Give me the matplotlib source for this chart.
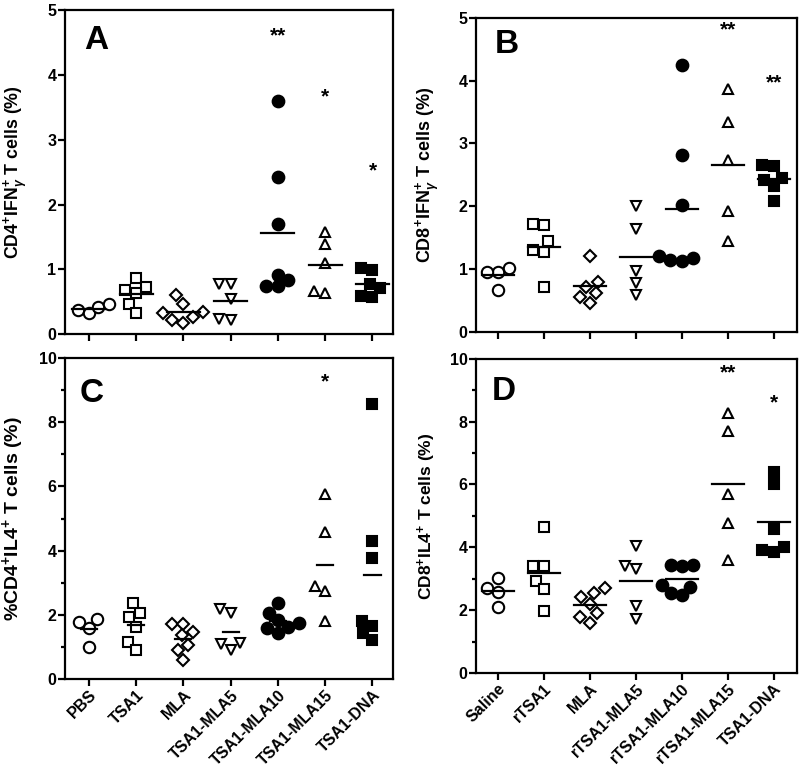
import matplotlib
matplotlib.use('Agg')
import matplotlib.pyplot as plt
import numpy as np
from matplotlib.ticker import MultipleLocator

plt.rcParams['font.family'] = 'Liberation Sans'
plt.rcParams['font.weight'] = 'bold'
plt.rcParams['mathtext.fontset'] = 'custom'
plt.rcParams['mathtext.rm'] = 'Liberation Sans:bold'
plt.rcParams['mathtext.it'] = 'Liberation Sans:bold:italic'
plt.rcParams['mathtext.bf'] = 'Liberation Sans:bold'

# group names
groups_left = ['PBS', 'TSA1', 'MLA', 'TSA1-MLA5', 'TSA1-MLA10', 'TSA1-MLA15', 'TSA1-DNA']
groups_right = ['Saline', 'rTSA1', 'MLA', 'rTSA1-MLA5', 'rTSA1-MLA10', 'rTSA1-MLA15', 'TSA1-DNA']

# panel A: CD4+IFNg+
a_vals = [
    [0.37, 0.32, 0.42, 0.47],
    [0.86, 0.68, 0.73, 0.63, 0.47, 0.33],
    [0.60, 0.47, 0.34, 0.32, 0.27, 0.22, 0.17],
    [0.78, 0.78, 0.54, 0.22, 0.23],
    [3.59, 2.43, 1.70, 0.92, 0.83, 0.75, 0.74],
    [1.58, 1.39, 1.10, 0.67, 0.63],
    [1.02, 0.99, 0.78, 0.71, 0.59, 0.58],
]
a_stars = [(4, 4.6, '**'), (5, 3.66, '*'), (6, 2.52, '*')]

# panel B: CD8+IFNg+
b_vals = [
    [0.96, 0.96, 1.01, 0.67],
    [1.70, 1.72, 1.44, 1.30, 1.27, 0.72],
    [1.20, 0.80, 0.72, 0.62, 0.56, 0.46],
    [2.00, 1.63, 0.97, 0.77, 0.58],
    [4.24, 2.82, 2.02, 1.20, 1.18, 1.15, 1.13],
    [3.86, 3.34, 2.74, 1.92, 1.44],
    [2.64, 2.65, 2.45, 2.41, 2.32, 2.09],
]
b_stars = [(5, 4.81, '**'), (6, 3.97, '**')]

# panel C: CD4+IL4+
c_vals = [
    [1.79, 1.86, 1.60, 0.99],
    [2.07, 1.92, 2.36, 1.63, 1.16, 0.92],
    [1.73, 1.73, 1.47, 1.37, 1.06, 0.90, 0.59],
    [2.17, 2.05, 1.11, 1.09, 0.90],
    [2.38, 2.05, 1.84, 1.75, 1.63, 1.58, 1.44],
    [5.76, 4.57, 2.90, 2.74, 1.80],
    [8.56, 4.29, 3.78, 1.80, 1.66, 1.44, 1.23],
]
c_stars = [(5, 9.25, '*')]

# panel D: CD8+IL4+
d_vals = [
    [3.02, 2.57, 2.70, 2.09],
    [4.65, 3.40, 3.40, 2.92, 2.66, 1.97],
    [2.54, 2.70, 2.41, 2.20, 1.90, 1.79, 1.60],
    [4.04, 3.40, 3.32, 2.13, 1.73],
    [3.44, 3.39, 3.44, 2.75, 2.80, 2.54, 2.49],
    [8.28, 7.70, 5.69, 4.78, 3.61],
    [6.40, 6.02, 4.57, 4.01, 3.85, 3.90],
]
d_stars = [(5, 9.56, '**'), (6, 8.6, '*')]

# marker per group: (marker, size, filled)
styles = [('o', 8.2, False), ('s', 7.2, False), ('D', 6.4, False), ('v', 7.8, False),
          ('o', 8.4, True), ('^', 7.8, False), ('s', 6.6, True)]


def swarm(ax, vals, xc, d=11.5):
    """simple beeswarm: x offsets in pixels so markers do not overlap"""
    p0 = ax.transData.transform((0, 0))
    p1 = ax.transData.transform((1, 1))
    sx, sy = p1 - p0
    ys = np.asarray(vals) * sy
    placed = []
    xs = np.zeros(len(vals))
    for i in np.argsort(ys):
        cands = [0.0]
        for px, py in placed:
            dy = ys[i] - py
            if abs(dy) < d:
                dx = np.sqrt(d * d - dy * dy)
                cands += [px - dx, px + dx]
        cands.sort(key=abs)
        for c in cands:
            if all((c - px) ** 2 + (ys[i] - py) ** 2 >= d * d - 1e-6 for px, py in placed):
                break
        placed.append((c, ys[i]))
        xs[i] = c
    return xc + xs / sx


def panel(ax, vals, stars, ymax, minor, ylabel, ylabel_size, letter, letter_pos, label_x,
          xlim, names=None, half=0.35):
    ax.set_xlim(*xlim)
    ax.set_ylim(0, ymax)
    for k, v in enumerate(vals):
        m, ms, filled = styles[k]
        xs = swarm(ax, v, k)
        ax.plot(xs, v, linestyle='none', marker=m, markersize=ms,
                markerfacecolor='black' if filled else 'white',
                markeredgecolor='black', markeredgewidth=1.5, zorder=3)
        mu = np.mean(v)
        ax.plot([k - half, k + half], [mu, mu], color='black', lw=1.6, zorder=4)
    for k, y, s in stars:
        ax.text(k, y, s, ha='center', va='center', fontsize=15, fontweight='bold')
    for sp in ax.spines.values():
        sp.set_linewidth(1.6)
    ax.yaxis.set_major_locator(MultipleLocator(2 if ymax == 10 else 1))
    if minor:
        ax.yaxis.set_minor_locator(MultipleLocator(1))
    ax.tick_params(axis='both', which='major', direction='out', length=5, width=1.6,
                   labelsize=11.5, pad=1)
    ax.tick_params(axis='y', which='minor', direction='out', length=3, width=1.6)
    ax.set_xticks(range(7))
    if names is None:
        ax.set_xticklabels([])
    else:
        ax.set_xticklabels(names, rotation=45, ha='right', va='top', rotation_mode='anchor',
                           fontsize=11.5, fontweight='bold')
    for lab in ax.get_yticklabels():
        lab.set_fontweight('bold')
    ax.set_ylabel(ylabel, fontsize=ylabel_size, fontweight='bold')
    ax.yaxis.set_label_coords(label_x, 0.5)
    ax.text(letter_pos[0], letter_pos[1], letter, transform=ax.transAxes,
            ha='left', va='center', fontsize=24, fontweight='bold')


fig = plt.figure(figsize=(8, 7.7), dpi=100)
axA = fig.add_axes([0.081, 0.566, 0.410, 0.421])
axB = fig.add_axes([0.595, 0.569, 0.401, 0.408])
axC = fig.add_axes([0.081, 0.118, 0.410, 0.417])
axD = fig.add_axes([0.595, 0.126, 0.401, 0.408])

panel(axA, a_vals, a_stars, 5, False, r'CD4$^{+}$IFN$_{\gamma}^{+}$ T cells (%)', 12.8,
      'A', (0.058, 0.905), -0.107, (-0.51, 6.43))
panel(axB, b_vals, b_stars, 5, False, r'CD8$^{+}$IFN$_{\gamma}^{+}$ T cells (%)', 13,
      'B', (0.058, 0.915), -0.106, (-0.48, 6.5))
panel(axC, c_vals, c_stars, 10, True, r'%CD4$^{+}$IL4$^{+}$ T cells (%)', 14,
      'C', (0.045, 0.89), -0.118, (-0.51, 6.43), names=groups_left, half=0.17)
panel(axD, d_vals, d_stars, 10, True, r'CD8$^{+}$IL4$^{+}$ T cells (%)', 12.5,
      'D', (0.05, 0.895), -0.118, (-0.48, 6.5), names=groups_right)

fig.savefig('out.png', dpi=100)
